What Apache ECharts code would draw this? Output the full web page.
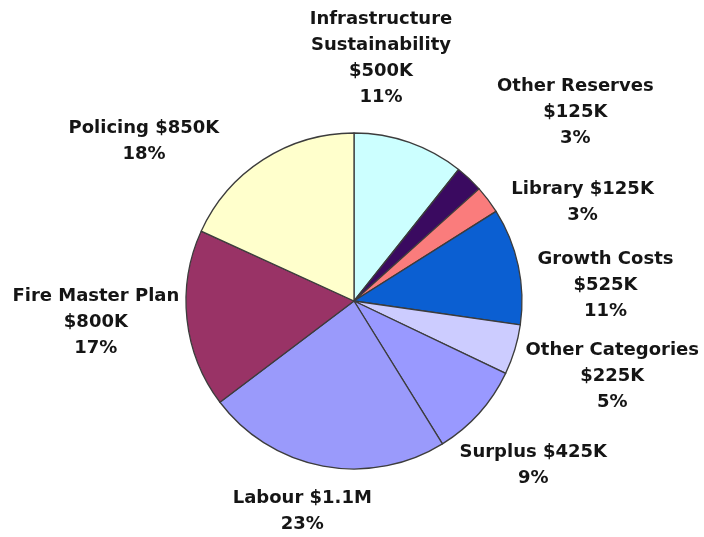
<!DOCTYPE html>
<html>
<head>
<meta charset="utf-8">
<script src="https://cdn.jsdelivr.net/npm/echarts@6/dist/echarts.min.js"></script>
<style>
  html, body { margin: 0; padding: 0; background: #ffffff; }
  #chart { width: 704px; height: 537px; }
</style>
</head>
<body>
<div id="chart"></div>
<script>
// Budget allocation by category, amounts in thousands of dollars
const categories = ['Infrastructure\nSustainability', 'Other Reserves', 'Library', 'Growth Costs',
  'Other Categories', 'Surplus', 'Labour', 'Fire Master Plan', 'Policing'];
const amountsK = [500, 125, 125, 525, 225, 425, 1100, 800, 850];
// Categories whose amount sits on the same line as the name
const amountInline = ['Library', 'Surplus', 'Labour', 'Policing'];
const sliceColors = ['#CCFFFF', '#3A0A60', '#FA7C7C', '#0B5FD2', '#CCCCFF', '#9999FF', '#9A9AFB', '#993366', '#FFFFCC'];

const CX = 354, CY = 301, R = 168;
const START = 90;

// Mid angle of each slice (degrees, counter-clockwise from +x)
const total = amountsK.reduce((s, v) => s + v, 0);
const midAngles = [];
let acc = 0;
amountsK.forEach(v => {
  const span = v / total * 360;
  midAngles.push(START - acc - span / 2);
  acc += span;
});

// Label placement around the pie: distance from centre and angular nudge
const labelDist = [244, 291, 249, 252, 269, 243, 217, 259, 264];
const labelTurn = [12.9, -6.2, -13.7, -8.4, 0.6, -0.6, -3.2, -1.6, 20.0];

function money(k) {
  return k >= 1000 ? '$' + (k / 1000).toFixed(1) + 'M' : '$' + k + 'K';
}

const chart = echarts.init(document.getElementById('chart'), null, { renderer: 'canvas' });
chart.setOption({
  animation: false,
  backgroundColor: '#ffffff',
  series: [{
    type: 'pie',
    center: [CX, CY],
    radius: R,
    startAngle: START,
    clockwise: true,
    avoidLabelOverlap: false,
    percentPrecision: 0,
    data: categories.map((name, i) => ({
      name: name,
      value: amountsK[i],
      itemStyle: { color: sliceColors[i] }
    })),
    itemStyle: { borderColor: '#3c3c3c', borderWidth: 1.3 },
    label: {
      show: true,
      position: 'outside',
      formatter: p => {
        const sep = amountInline.indexOf(p.name) >= 0 ? ' ' : '\n';
        return p.name + sep + money(p.value) + '\n' + p.percent + '%';
      },
      fontFamily: 'DejaVu Sans',
      fontWeight: 'bold',
      fontSize: 18,
      lineHeight: 26,
      color: '#151515'
    },
    labelLine: { show: false },
    labelLayout: p => {
      const i = p.dataIndex;
      const a = (midAngles[i] + labelTurn[i]) * Math.PI / 180;
      return {
        x: CX + labelDist[i] * Math.cos(a),
        y: CY - labelDist[i] * Math.sin(a),
        align: 'center',
        verticalAlign: 'middle'
      };
    },
    emphasis: { disabled: true }
  }]
});
</script>
</body>
</html>
